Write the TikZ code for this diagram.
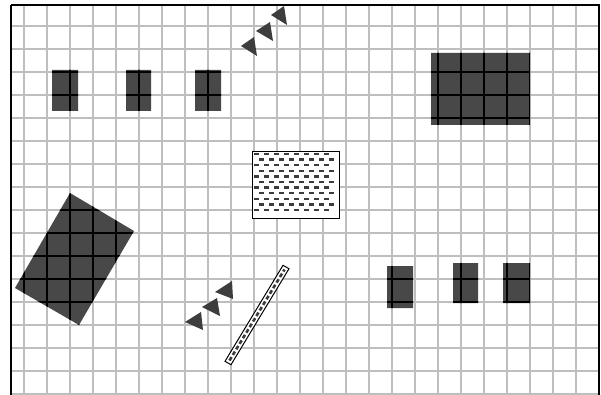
\documentclass[tikz,border=0pt]{standalone}
\definecolor{gridgray}{RGB}{190,190,190}
\definecolor{shapegray}{RGB}{72,72,72}
\definecolor{dashgray}{RGB}{60,60,60}
\begin{document}
\begin{tikzpicture}[x=1pt,y=-1pt,
  gridline/.style={line width=2.2pt},
  darkshape/.style={fill=shapegray},
  arrowtri/.style={fill=shapegray!85!black},
  patternbox/.style={draw=black, fill=white, line width=0.9pt},
  framebox/.style={draw=black, line width=1.3pt}]
\useasboundingbox (0,0) rectangle (601,395);
\fill[white] (0,0) rectangle (601,395);
\newcommand\mygridlines[1]{%
  \foreach \x in {24,47,...,576} \draw[gridline,#1] (\x,5) -- (\x,396);
  \foreach \y in {26,49,...,394} \draw[gridline,#1] (11,\y) -- (599,\y);}
\newcommand\darkshapes{%
  (52,70) rectangle (78,111)
  (126,70) rectangle (151,111)
  (195,70) rectangle (221,111)
  (431,53) rectangle (530,125)
  (70,193) -- (134,231) -- (79,325) -- (15,288) -- cycle
  (387,266) rectangle (413,308)
  (453,263) rectangle (478,303)
  (503,263) rectangle (530,303)}
% grid
\mygridlines{gridgray}
% dark shapes with black grid over them
\fill[darkshape] \darkshapes;
\begin{scope}
  \clip \darkshapes;
  \mygridlines{black}
\end{scope}
% dotted pattern box
\draw[patternbox] (252,151) rectangle (339,218);
\foreach \i in {0,...,10} {
  \pgfmathsetmacro\yy{154+5.6*\i}
  \pgfmathsetmacro\xo{254+5*mod(\i,2)}
  \foreach \k in {0,...,7} {
    \fill[dashgray] ({\xo+10*\k},{\yy-1.2}) rectangle +(5,2.4);
  }
}
% hatched bar
\draw[draw=black, fill=white, line width=1pt]
  (225.0,361.3) -- (283.0,265.3) -- (289.0,268.7) -- (231.0,364.7) -- cycle;
\draw[dashgray, line width=2.6pt, dash pattern=on 4pt off 2.5pt]
  (229.5,360.5) -- (284.5,269.5);
% arrow triangles, top
\fill[arrowtri] (241,46) -- (254,37) -- (257,56) -- cycle;
\fill[arrowtri] (256,31) -- (270,22) -- (273,41) -- cycle;
\fill[arrowtri] (271,15) -- (284,6) -- (287,25) -- cycle;
% arrow triangles, bottom
\fill[arrowtri] (185,322) -- (201,312) -- (203,330) -- cycle;
\fill[arrowtri] (202,307) -- (217,298) -- (220,316) -- cycle;
\fill[arrowtri] (215,292) -- (232,281) -- (233,299) -- cycle;
% frame
\draw[framebox] (11,5) -- (599,5) -- (599,397);
\draw[framebox] (11,5) -- (11,397);
\end{tikzpicture}
\end{document}
